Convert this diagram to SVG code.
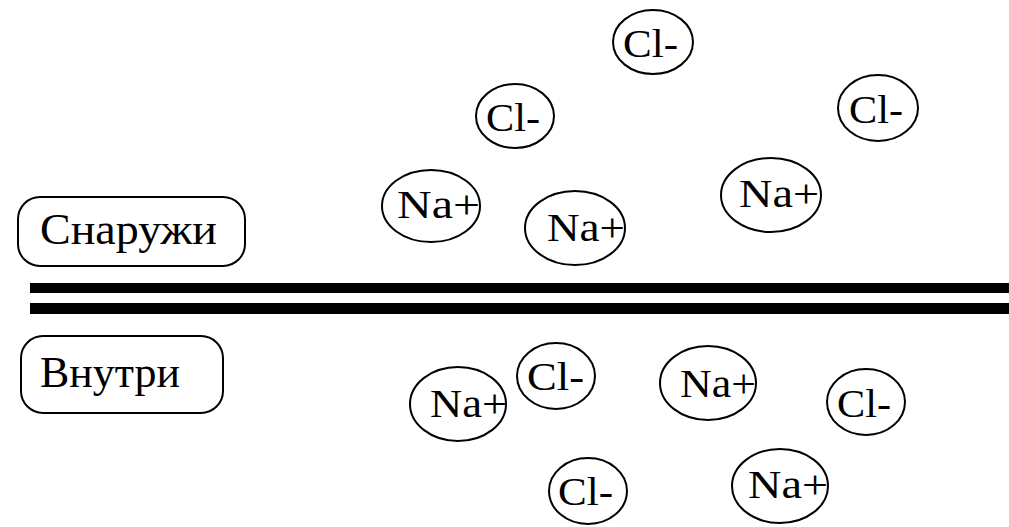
<svg xmlns="http://www.w3.org/2000/svg" width="1009" height="527" viewBox="0 0 1009 527">
<style>
.bg{fill:#fff}
.box{fill:#fff;stroke:#000;stroke-width:2}
.ion{fill:#fff;stroke:#000;stroke-width:2}
text{font-family:'Liberation Serif','Times New Roman',serif;fill:#000}
.lbl{font-size:45px}
.it{font-size:41px}
.mem{fill:#000}
</style>
<rect class="bg" x="0" y="0" width="1009" height="527"/>
<g id="membrane">
<rect class="mem" x="30" y="283" width="979" height="10"/>
<rect class="mem" x="30" y="303" width="979" height="11"/>
</g>
<g id="outside">
<rect class="box" x="18" y="197" width="227" height="69" rx="22"/>
<text class="lbl" x="40" y="244" textLength="177" lengthAdjust="spacingAndGlyphs">Снаружи</text>
</g>
<g id="inside">
<rect class="box" x="21" y="336" width="202" height="77" rx="22"/>
<text class="lbl" x="40" y="387" textLength="140" lengthAdjust="spacingAndGlyphs">Внутри</text>
</g>
<g id="cl1"><ellipse class="ion" cx="653" cy="42" rx="40" ry="32"/><text class="it" x="623" y="57" textLength="55" lengthAdjust="spacingAndGlyphs">Cl-</text></g>
<g id="cl2"><ellipse class="ion" cx="515" cy="116" rx="39" ry="32"/><text class="it" x="486" y="131" textLength="54" lengthAdjust="spacingAndGlyphs">Cl-</text></g>
<g id="cl3"><ellipse class="ion" cx="878" cy="108" rx="40" ry="33"/><text class="it" x="849" y="123" textLength="54" lengthAdjust="spacingAndGlyphs">Cl-</text></g>
<g id="na1"><ellipse class="ion" cx="431" cy="206" rx="49" ry="36"/><text class="it" x="397" y="218" textLength="83" lengthAdjust="spacingAndGlyphs">Na+</text></g>
<g id="na2"><ellipse class="ion" cx="575" cy="228" rx="50" ry="37"/><text class="it" x="547" y="241" textLength="78" lengthAdjust="spacingAndGlyphs">Na+</text></g>
<g id="na3"><ellipse class="ion" cx="771" cy="195" rx="50" ry="37"/><text class="it" x="739" y="207" textLength="80" lengthAdjust="spacingAndGlyphs">Na+</text></g>
<g id="na4"><ellipse class="ion" cx="458" cy="404" rx="48" ry="37"/><text class="it" x="430" y="417" textLength="77" lengthAdjust="spacingAndGlyphs">Na+</text></g>
<g id="cl4"><ellipse class="ion" cx="556" cy="376" rx="39" ry="33"/><text class="it" x="527" y="390" textLength="57" lengthAdjust="spacingAndGlyphs">Cl-</text></g>
<g id="na5"><ellipse class="ion" cx="708" cy="383" rx="48" ry="37"/><text class="it" x="680" y="397" textLength="76" lengthAdjust="spacingAndGlyphs">Na+</text></g>
<g id="cl5"><ellipse class="ion" cx="866" cy="402" rx="39" ry="33"/><text class="it" x="837" y="417" textLength="54" lengthAdjust="spacingAndGlyphs">Cl-</text></g>
<g id="cl6"><ellipse class="ion" cx="588" cy="491" rx="39" ry="33"/><text class="it" x="558" y="505" textLength="55" lengthAdjust="spacingAndGlyphs">Cl-</text></g>
<g id="na6"><ellipse class="ion" cx="780" cy="486" rx="48" ry="37"/><text class="it" x="748" y="498" textLength="80" lengthAdjust="spacingAndGlyphs">Na+</text></g>
</svg>
